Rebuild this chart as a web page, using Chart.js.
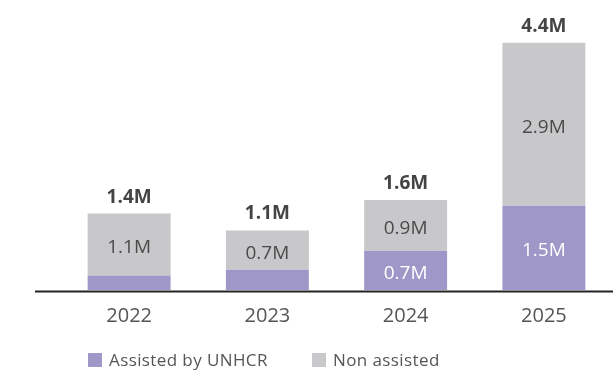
<!DOCTYPE html>
<html lang="en">
<head>
  <meta charset="UTF-8">
  <title>Assisted and non assisted, 2022-2025</title>
  <script src="https://cdn.jsdelivr.net/npm/chart.js"></script>
  <style>
    body {
      margin: 0;
      padding: 0;
      background: #ffffff;
      font-family: "Open Sans", Arial, sans-serif;
    }

    .wrap {
      position: relative;
      width: 613px;
      height: 370px;
    }

    .legend {
      position: absolute;
      top: 349px;
      left: 0;
      width: 613px;
      height: 20px;
    }

    .legend-item {
      position: absolute;
      top: 0;
      display: flex;
      align-items: center;
      font-size: 17px;
      line-height: 22px;
      letter-spacing: 0.4px;
      color: #555;
      white-space: nowrap;
    }

    .legend-item span.box {
      display: inline-block;
      width: 14px;
      height: 14px;
      margin-right: 7px;
    }
  </style>
</head>

<body>
  <div class="wrap">
    <canvas id="refugeeChart" width="613" height="370"></canvas>
    <div class="legend" id="legend"></div>
  </div>

  <script>
    // Data (millions)
    const years = ['2022', '2023', '2024', '2025'];
    const assisted = [0.26, 0.36, 0.7, 1.5];
    const nonAssisted = [1.1, 0.7, 0.9, 2.9];
    const seriesNames = ['Assisted by UNHCR', 'Non assisted'];
    const seriesColors = ['#9f97c8', '#c8c8ca'];
    const yTicks = [0, 5];

    const FONT = '"Open Sans", Arial, sans-serif';

    function fmt(v) {
      return (Math.round(v * 10) / 10).toFixed(1) + 'M';
    }

    // Labels inside segments and totals above each stack, plus the baseline
    const barLabels = {
      id: 'barLabels',
      afterDatasetsDraw(chart) {
        const ctx = chart.ctx;
        const yScale = chart.scales.y;
        const y0 = yScale.getPixelForValue(0);

        ctx.save();
        ctx.textAlign = 'center';

        chart.data.datasets.forEach((ds, di) => {
          const meta = chart.getDatasetMeta(di);
          meta.data.forEach((bar, i) => {
            const h = bar.base - bar.y;
            if (h < 30) return;
            ctx.font = '19px ' + FONT;
            ctx.fillStyle = di === 0 ? '#ffffff' : '#4a4a4a';
            ctx.textBaseline = 'middle';
            ctx.fillText(fmt(ds.data[i]), bar.x, (bar.y + bar.base) / 2 + 3);
          });
        });

        const top = chart.getDatasetMeta(1);
        top.data.forEach((bar, i) => {
          const total = assisted[i] + nonAssisted[i];
          ctx.font = 'bold 19px ' + FONT;
          ctx.fillStyle = '#444444';
          ctx.textBaseline = 'alphabetic';
          ctx.fillText(fmt(total), bar.x, yScale.getPixelForValue(total) - 11);
        });

        // baseline, runs a little past the plot on the left
        ctx.strokeStyle = '#222222';
        ctx.lineWidth = 2;
        ctx.beginPath();
        ctx.moveTo(35, y0 + 1.5);
        ctx.lineTo(chart.chartArea.right, y0 + 1.5);
        ctx.stroke();
        ctx.restore();
      }
    };

    const chart = new Chart(document.getElementById('refugeeChart'), {
      type: 'bar',
      data: {
        labels: years,
        datasets: [
          {
            label: seriesNames[0],
            data: assisted,
            backgroundColor: seriesColors[0],
            categoryPercentage: 1,
            barPercentage: 0.6
          },
          {
            label: seriesNames[1],
            data: nonAssisted,
            backgroundColor: seriesColors[1],
            categoryPercentage: 1,
            barPercentage: 0.6
          }
        ]
      },
      options: {
        responsive: false,
        animation: false,
        layout: {
          padding: { left: 60, right: 0, top: 9, bottom: 0 }
        },
        plugins: {
          legend: { display: false },
          tooltip: { enabled: false }
        },
        scales: {
          x: {
            stacked: true,
            grid: { display: false, drawTicks: false },
            border: { display: false },
            ticks: {
              color: '#555555',
              font: { family: FONT, size: 20 },
              padding: 14
            },
            afterFit(scale) {
              scale.height = 80;
            }
          },
          y: {
            stacked: true,
            display: false,
            min: yTicks[0],
            max: yTicks[1]
          }
        }
      },
      plugins: [barLabels]
    });

    // Legend built from the datasets
    const legendEl = document.getElementById('legend');
    const legendX = [88, 312];
    chart.data.datasets.forEach((ds, i) => {
      const item = document.createElement('div');
      item.className = 'legend-item';
      item.style.left = legendX[i] + 'px';
      const box = document.createElement('span');
      box.className = 'box';
      box.style.background = ds.backgroundColor;
      item.appendChild(box);
      item.appendChild(document.createTextNode(ds.label));
      legendEl.appendChild(item);
    });
  </script>
</body>
</html>
